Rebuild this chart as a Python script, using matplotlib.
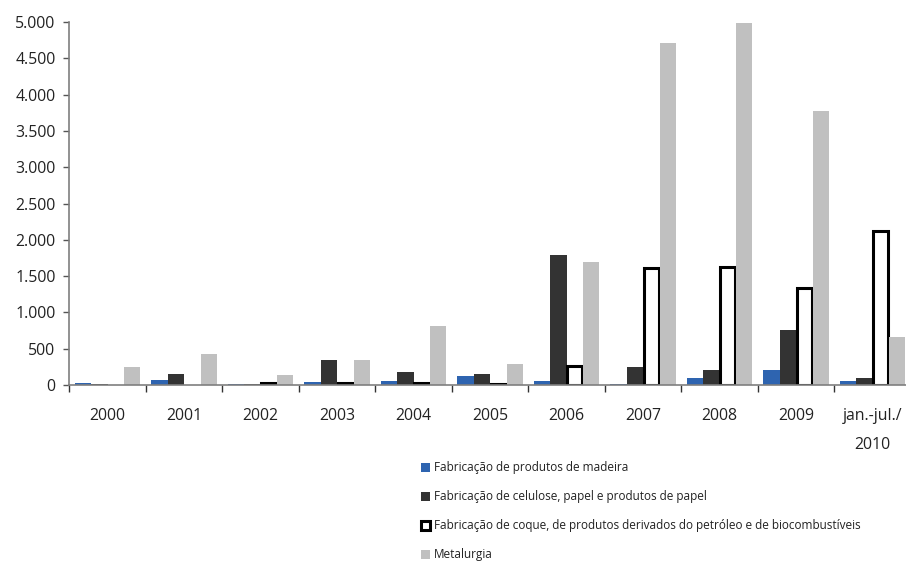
import numpy as np
import matplotlib
matplotlib.use('Agg')
from matplotlib import pyplot as plt
from matplotlib.ticker import FuncFormatter, FixedLocator

plt.rcParams['font.family'] = ['Open Sans', 'DejaVu Sans']

# data
years = ['2000', '2001', '2002', '2003', '2004', '2005', '2006', '2007', '2008', '2009',
         'jan.-jul./\n2010']
madeira = [25, 70, 15, 40, 55, 120, 60, 20, 90, 200, 60]
celulose = [10, 150, 10, 345, 180, 150, 1795, 250, 200, 760, 90]
coque = [0, 0, 25, 25, 25, 20, 260, 1610, 1630, 1340, 2125]
metalurgia = [250, 425, 140, 345, 810, 295, 1700, 4710, 4990, 3775, 665]

labels = ['Fabricação de produtos de madeira',
          'Fabricação de celulose, papel e produtos de papel',
          'Fabricação de coque, de produtos derivados do petróleo e de biocombustíveis',
          'Metalurgia']

text_color = '#222222'

fig = plt.figure(figsize=(9.06, 5.61), dpi=100)
ax = fig.add_axes([0.0765, 0.3137, 0.9288, 0.6471])

x = np.arange(len(years))
w = 0.215
b1 = ax.bar(x - 1.5 * w, madeira, w, color='#2e64b0', linewidth=0)
b2 = ax.bar(x - 0.5 * w, celulose, w, color='#333333', linewidth=0)
lw_coque = [0 if v == 0 else 2.2 for v in coque]
b3 = ax.bar(x + 0.5 * w, coque, w * 0.92, color='white', edgecolor='black', linewidth=lw_coque)
b4 = ax.bar(x + 1.5 * w, metalurgia, w, color='#c0c0c0', linewidth=0)

ax.set_xlim(-0.5, len(years) - 0.5)
ax.set_ylim(0, 5000)
ax.set_yticks(np.arange(0, 5001, 500))
ax.yaxis.set_major_formatter(FuncFormatter(lambda v, p: f'{int(v):,}'.replace(',', '.')))

ax.set_xticks(x)
ax.set_xticklabels(years)
ax.xaxis.set_minor_locator(FixedLocator(np.arange(-0.5, len(years), 1.0)))
ax.tick_params(axis='x', which='major', length=0, pad=16.5, labelsize=11.4, labelcolor=text_color)
ax.tick_params(axis='x', which='minor', length=5, width=1, color='#333333')
ax.tick_params(axis='y', length=4, width=1, color='#555555', pad=6,
               labelsize=11.4, labelcolor=text_color)
for t in ax.get_xticklabels():
    t.set_linespacing(2.05)
    t.set_verticalalignment('top')

for side in ['top', 'right']:
    ax.spines[side].set_visible(False)
ax.spines['left'].set_color('#7f7f7f')
ax.spines['bottom'].set_color('#7f7f7f')
ax.spines['left'].set_linewidth(1.2)
ax.spines['bottom'].set_linewidth(1.2)

leg = fig.legend([b1, b2, b3, b4], labels, loc='upper left',
                 bbox_to_anchor=(0.4645, 0.178), frameon=False, fontsize=8.45,
                 handlelength=0.8, handleheight=0.8, handletextpad=0.35,
                 labelspacing=1.37, borderpad=0, borderaxespad=0)
for t in leg.get_texts():
    t.set_color(text_color)
leg.legend_handles[2].set_linewidth(2.2)

fig.savefig('out.png', dpi=100)
